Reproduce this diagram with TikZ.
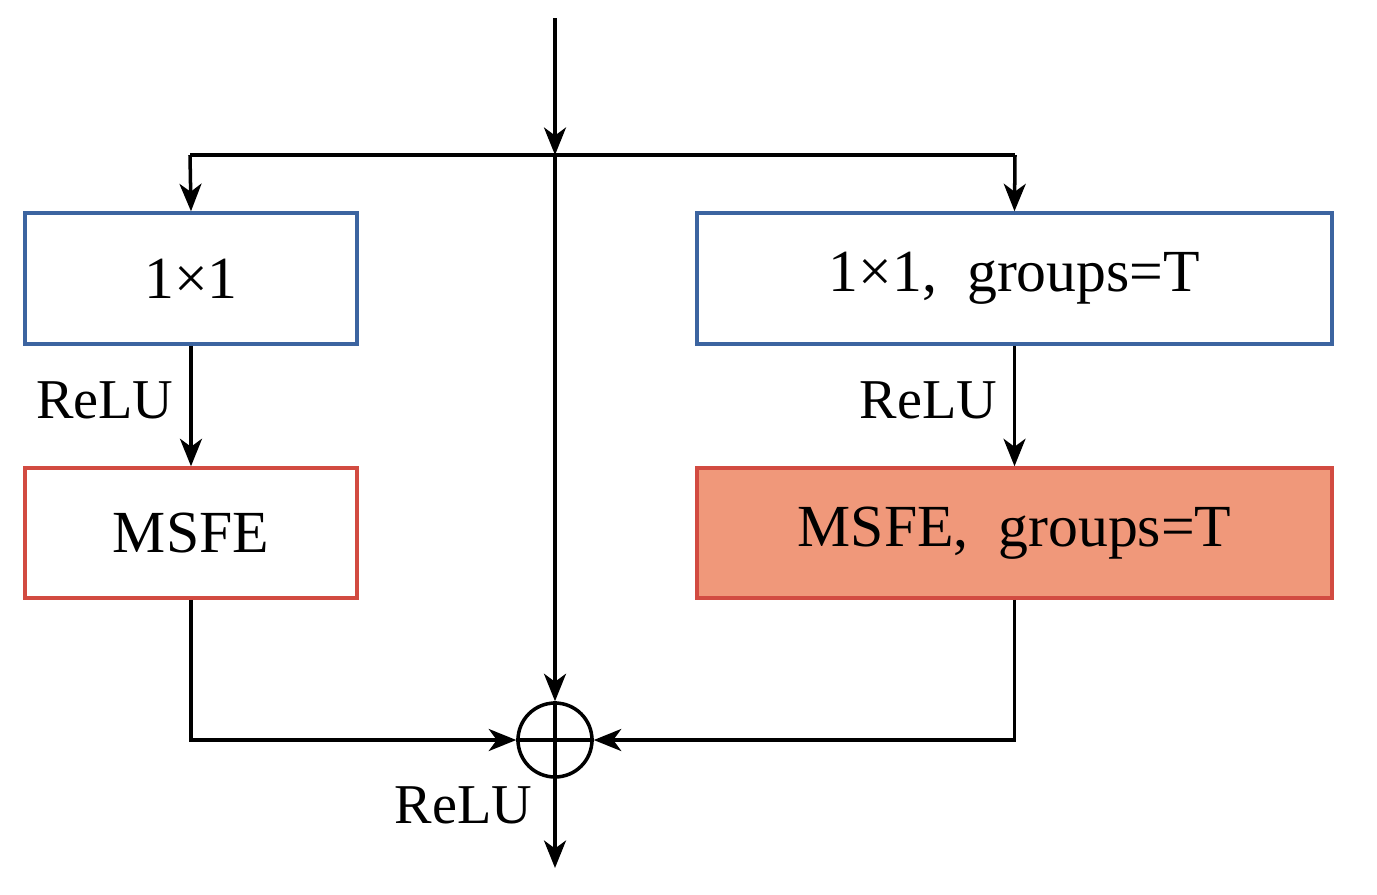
\documentclass[tikz,border=0pt]{standalone}
\usepackage{fontspec}
\setmainfont{Liberation Serif}
\usetikzlibrary{arrows.meta}
\definecolor{boxblue}{RGB}{60,100,160}
\definecolor{boxred}{RGB}{210,75,65}
\definecolor{boxfill}{RGB}{240,152,122}
\begin{document}
\begin{tikzpicture}[x=0.02cm, y=-0.02cm,
    line width=2pt,
    arr/.style={-{Stealth[length=5.5mm,width=4.4mm,inset=1.6mm]}},
    conv/.style={rectangle, draw=boxblue, line width=2pt, font=\fontsize{34}{40}\selectfont},
    msfe/.style={rectangle, draw=boxred, line width=2pt, font=\fontsize{34}{40}\selectfont},
    lbl/.style={font=\fontsize{32}{38}\selectfont, inner sep=9pt}
]
\useasboundingbox (0,0) rectangle (1377,894);

\node[conv, minimum width=6.64cm, minimum height=2.62cm] (convl) at (191,278.5) {1×1};
\node[conv, minimum width=12.7cm, minimum height=2.62cm] (convr) at (1014.5,278.5) {1×1,\ \ groups=T};
\node[msfe, minimum width=6.64cm, minimum height=2.6cm] (msfel) at (191,533) {MSFE};
\node[msfe, fill=boxfill, minimum width=12.7cm, minimum height=2.6cm] (msfer) at (1014.5,533) {MSFE,\ \ groups=T};
\node[circle, draw, minimum size=1.48cm, inner sep=0pt] (add) at (555,740) {};
\coordinate (in) at (555,18);
\coordinate (split) at (555,155);
\coordinate (out) at (555,868);

% Flux
\draw[arr] (in) -- (split);
\draw[arr] (split) -- (add.north);
\draw (190,155) -- (1015,155);
\draw[arr] (190,155) -- (convl.north);
\draw[arr] (1015,155) -- (convr.north);
\draw[arr] (convl) -- (msfel) node[pos=0.45, left, lbl] {ReLU};
\draw[arr] (convr) -- (msfer) node[pos=0.45, left, lbl] {ReLU};
\draw[arr] (msfel.south) |- (add.west);
\draw[arr] (msfer.south) |- (add.east);
\draw[arr] (add.south) -- (out) node[pos=0.3, left, lbl, inner sep=12pt] {ReLU};
\draw (add.north) -- (add.south) (add.west) -- (add.east);
\end{tikzpicture}
\end{document}
